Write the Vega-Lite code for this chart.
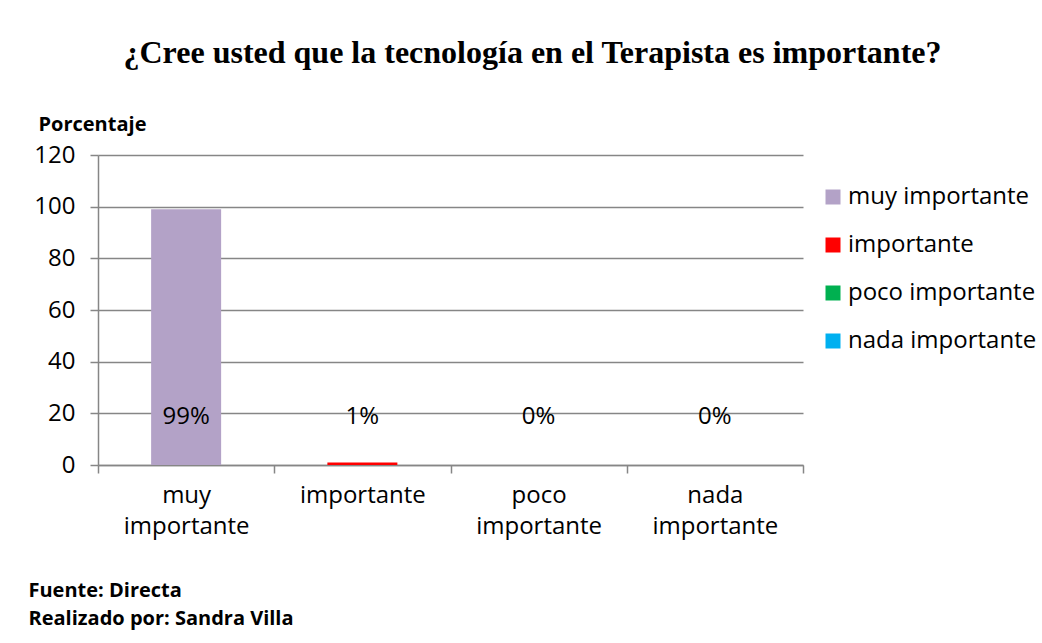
{
  "$schema": "https://vega.github.io/schema/vega-lite/v6.json",
  "width": 705,
  "height": 310,
  "autosize": {"type": "none"},
  "padding": {"left": 98, "top": 155, "right": 239, "bottom": 178},
  "background": "white",
  "title": {
    "text": "¿Cree usted que la tecnología en el Terapista es importante?",
    "font": "Liberation Serif",
    "fontSize": 32,
    "fontWeight": "bold",
    "color": "#000000",
    "anchor": "middle",
    "dx": 82,
    "offset": 44
  },
  "config": {
    "view": {"stroke": null},
    "font": "Open Sans"
  },
  "data": {
    "values": [
      {"categoria": "muy importante", "porcentaje": 99, "etiqueta": "99%"},
      {"categoria": "importante", "porcentaje": 1, "etiqueta": "1%"},
      {"categoria": "poco importante", "porcentaje": 0, "etiqueta": "0%"},
      {"categoria": "nada importante", "porcentaje": 0, "etiqueta": "0%"}
    ]
  },
  "encoding": {
    "x": {
      "field": "categoria",
      "type": "nominal",
      "sort": ["muy importante", "importante", "poco importante", "nada importante"],
      "scale": {"paddingInner": 0, "paddingOuter": 0},
      "axis": {
        "labelExpr": "split(datum.label, ' ')",
        "labelAngle": 0,
        "labelFont": "Open Sans",
        "labelFontSize": 24,
        "labelColor": "#000000",
        "labelPadding": 10,
        "labelLineHeight": 31,
        "labelBaseline": "top",
        "tickBand": "extent",
        "tickSize": 8,
        "tickColor": "#868686",
        "tickWidth": 1.5,
        "domainColor": "#868686",
        "domainWidth": 1.5,
        "grid": false,
        "title": ["Fuente: Directa", "Realizado por: Sandra Villa"],
        "titleFont": "Open Sans",
        "titleFontSize": 20,
        "titleFontWeight": "bold",
        "titleColor": "#000000",
        "titleAlign": "left",
        "titleAnchor": "start",
        "titleBaseline": "alphabetic",
        "titleLineHeight": 28,
        "titleX": -70,
        "titleY": 131
      }
    }
  },
  "layer": [
    {
      "mark": {"type": "bar", "size": 70},
      "encoding": {
        "y": {
          "field": "porcentaje",
          "type": "quantitative",
          "scale": {"domain": [0, 120]},
          "axis": {
            "values": [0, 20, 40, 60, 80, 100, 120],
            "labelFont": "Open Sans",
            "labelFontSize": 24,
            "labelColor": "#000000",
            "labelPadding": 15,
            "tickSize": 8,
            "tickColor": "#868686",
            "tickWidth": 1.5,
            "domainColor": "#868686",
            "domainWidth": 1.5,
            "gridColor": "#868686",
            "gridWidth": 1.5,
            "title": "Porcentaje",
            "titleFont": "Open Sans",
            "titleFontSize": 20,
            "titleFontWeight": "bold",
            "titleColor": "#000000",
            "titleAngle": 0,
            "titleAlign": "left",
            "titleBaseline": "alphabetic",
            "titleX": -60,
            "titleY": -25
          }
        },
        "color": {
          "field": "categoria",
          "type": "nominal",
          "sort": ["muy importante", "importante", "poco importante", "nada importante"],
          "scale": {
            "domain": ["muy importante", "importante", "poco importante", "nada importante"],
            "range": ["#B3A2C7", "#FF0000", "#00B050", "#00B0F0"]
          },
          "legend": {
            "title": null,
            "orient": "none",
            "legendX": 723,
            "legendY": 30,
            "padding": 0,
            "symbolType": "square",
            "symbolSize": 225,
            "symbolStrokeWidth": 0,
            "symbolOpacity": 1,
            "labelFont": "Open Sans",
            "labelFontSize": 24,
            "labelColor": "#000000",
            "labelOffset": 3,
            "labelLimit": 400,
            "rowPadding": 24
          }
        }
      }
    },
    {
      "mark": {"type": "text", "font": "Open Sans", "fontSize": 24, "color": "#000000", "baseline": "middle", "align": "center"},
      "encoding": {
        "y": {"datum": 18.5},
        "text": {"field": "etiqueta"}
      }
    }
  ]
}
